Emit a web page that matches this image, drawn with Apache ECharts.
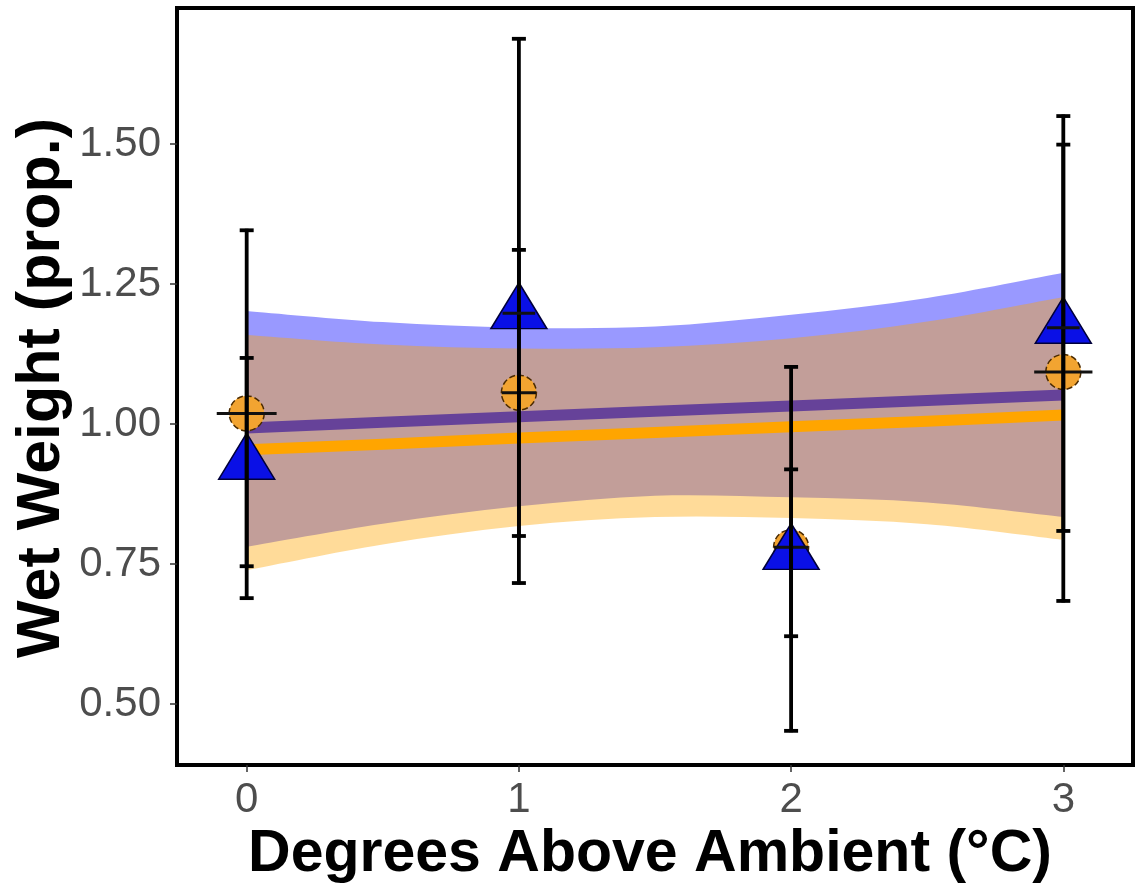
<!DOCTYPE html>
<html>
<head>
<meta charset="utf-8">
<script src="https://cdn.jsdelivr.net/npm/echarts@6/dist/echarts.min.js"></script>
<style>
html,body{margin:0;padding:0;background:#fff;}
#chart{width:1138px;height:888px;}
</style>
</head>
<body>
<div id="chart"></div>
<script>
// ---- data ----
const xTicks = [0, 1, 2, 3];
const yTicks = [0.50, 0.75, 1.00, 1.25, 1.50];

// orange circles
const circleMean = [1.019, 1.056, 0.780, 1.093];
const circleLow  = [0.689, 0.800, 0.621, 0.684];
const circleHigh = [1.346, 1.311, 0.919, 1.499];
const circleXErr = [0.11, 0.063, 0.063, 0.107];

// blue triangles
const triMean = [0.929, 1.198, 0.768, 1.172];
const triLow  = [0.746, 0.716, 0.452, 0.809];
const triHigh = [1.118, 1.688, 1.102, 1.550];
const triXErr = [0, 0.06, 0, 0.06];

// fitted lines and confidence ribbons
const fitX        = [0, 0.5, 1, 1.5, 2, 2.5, 3];
const blueFit     = [0.993, 1.003, 1.013, 1.023, 1.032, 1.042, 1.052];
const blueUpper   = [1.202, 1.182, 1.172, 1.174, 1.195, 1.225, 1.270];
const blueLower   = [0.781, 0.822, 0.853, 0.872, 0.869, 0.860, 0.834];
const orangeFit   = [0.954, 0.964, 0.975, 0.985, 0.995, 1.005, 1.016];
const orangeUpper = [1.159, 1.142, 1.135, 1.137, 1.153, 1.183, 1.227];
const orangeLower = [0.739, 0.785, 0.818, 0.834, 0.832, 0.821, 0.793];

// ---- helpers ----
function smoothPath(pts, start) {
  // Catmull-Rom through pts as cubic Bezier segments
  let d = start ? ('M' + pts[0][0] + ',' + pts[0][1]) : ('L' + pts[0][0] + ',' + pts[0][1]);
  for (let i = 0; i < pts.length - 1; i++) {
    const p0 = pts[Math.max(0, i - 1)], p1 = pts[i], p2 = pts[i + 1], p3 = pts[Math.min(pts.length - 1, i + 2)];
    const c1 = [p1[0] + (p2[0] - p0[0]) / 6, p1[1] + (p2[1] - p0[1]) / 6];
    const c2 = [p2[0] - (p3[0] - p1[0]) / 6, p2[1] - (p3[1] - p1[1]) / 6];
    d += 'C' + c1[0] + ',' + c1[1] + ' ' + c2[0] + ',' + c2[1] + ' ' + p2[0] + ',' + p2[1];
  }
  return d;
}
function ribbonSeries(upper, lower, color, z) {
  return {
    type: 'custom', silent: true, z: z,
    data: [0],
    renderItem: function (params, api) {
      const top = fitX.map((x, i) => api.coord([x, upper[i]]));
      const bot = fitX.map((x, i) => api.coord([x, lower[i]])).reverse();
      const d = smoothPath(top, true) + smoothPath(bot, false) + 'Z';
      return { type: 'path', shape: { pathData: d }, style: { fill: color, stroke: null } };
    }
  };
}
function fitSeries(vals, color, z) {
  return {
    type: 'custom', silent: true, z: z,
    data: [0],
    renderItem: function (params, api) {
      const pts = fitX.map((x, i) => api.coord([x, vals[i]]));
      return { type: 'polyline', shape: { points: pts }, style: { stroke: color, lineWidth: 11, fill: null } };
    }
  };
}
function errorSeries(mean, low, high, xerr, z) {
  return {
    type: 'custom', silent: true, z: z,
    data: xTicks.map((x, i) => [x, mean[i], low[i], high[i], xerr[i]]),
    renderItem: function (params, api) {
      const x = api.value(0);
      const pl = api.coord([x, api.value(2)]);
      const ph = api.coord([x, api.value(3)]);
      const xe = api.value(4);
      const capW = 7;
      const st = { stroke: '#000', lineWidth: 3.8 };
      const children = [
        { type: 'line', shape: { x1: pl[0], y1: pl[1] + 1.5, x2: ph[0], y2: ph[1] - 1.5 }, style: st },
        { type: 'line', shape: { x1: pl[0] - capW, y1: pl[1], x2: pl[0] + capW, y2: pl[1] }, style: st },
        { type: 'line', shape: { x1: ph[0] - capW, y1: ph[1], x2: ph[0] + capW, y2: ph[1] }, style: st }
      ];
      if (xe > 0) {
        const a = api.coord([x - xe, api.value(1)]);
        const b = api.coord([x + xe, api.value(1)]);
        children.push({ type: 'line', shape: { x1: a[0], y1: a[1], x2: b[0], y2: b[1] }, style: { stroke: '#111', lineWidth: 3 } });
      }
      return { type: 'group', children: children };
    }
  };
}

const chart = echarts.init(document.getElementById('chart'), null, { renderer: 'canvas' });
const labelFont = { fontFamily: 'Liberation Sans, Arial, sans-serif', fontSize: 42, color: '#4D4D4D' };

chart.setOption({
  animation: false,
  backgroundColor: '#fff',
  grid: { left: 177, right: 5, top: 8, bottom: 123, show: true, borderColor: '#000', borderWidth: 4, backgroundColor: 'transparent' },
  xAxis: {
    type: 'value', min: -0.256, max: 3.256,
    splitLine: { show: false },
    axisLine: { show: false, onZero: false },
    axisTick: { show: true, customValues: xTicks, length: 7, lineStyle: { color: '#333', width: 1.5 } },
    axisLabel: { customValues: xTicks, margin: 14, formatter: v => String(v), ...labelFont }
  },
  yAxis: {
    type: 'value', min: 0.391, max: 1.743,
    splitLine: { show: false },
    axisLine: { show: false, onZero: false },
    axisTick: { show: true, customValues: yTicks, length: 7, lineStyle: { color: '#333', width: 1.5 } },
    axisLabel: { customValues: yTicks, margin: 16, formatter: v => Number(v).toFixed(2), ...labelFont }
  },
  graphic: [
    { type: 'text', x: 650, y: 855, style: { text: 'Degrees Above Ambient (°C)', textAlign: 'center', textVerticalAlign: 'middle', font: 'bold 59px "Liberation Sans", Arial, sans-serif', fill: '#000' } },
    { type: 'text', rotation: Math.PI / 2, x: 42, y: 388, style: { text: 'Wet Weight (prop.)', textAlign: 'center', textVerticalAlign: 'middle', font: 'bold 61px "Liberation Sans", Arial, sans-serif', fill: '#000' } }
  ],
  series: [
    ribbonSeries(blueUpper, blueLower, 'rgba(0,0,255,0.4)', 1),
    fitSeries(blueFit, '#0000FF', 2),
    ribbonSeries(orangeUpper, orangeLower, 'rgba(255,165,0,0.4)', 3),
    fitSeries(orangeFit, '#FFA500', 4),
    {
      type: 'scatter', symbol: 'circle', symbolSize: 35, z: 5,
      data: xTicks.map((x, i) => [x, circleMean[i]]),
      itemStyle: { color: '#F2A431', borderColor: '#4a2a00', borderWidth: 1.5, borderType: 'dashed', opacity: 1 }
    },
    {
      type: 'scatter', symbol: 'triangle', symbolSize: [56, 46], symbolOffset: [0, -7.5], z: 6,
      data: xTicks.map((x, i) => [x, triMean[i]]),
      itemStyle: { color: '#0A10E6', borderColor: '#00003A', borderWidth: 1.5, opacity: 1 }
    },
    errorSeries(circleMean, circleLow, circleHigh, circleXErr, 7),
    errorSeries(triMean, triLow, triHigh, triXErr, 8)
  ]
});
</script>
</body>
</html>
